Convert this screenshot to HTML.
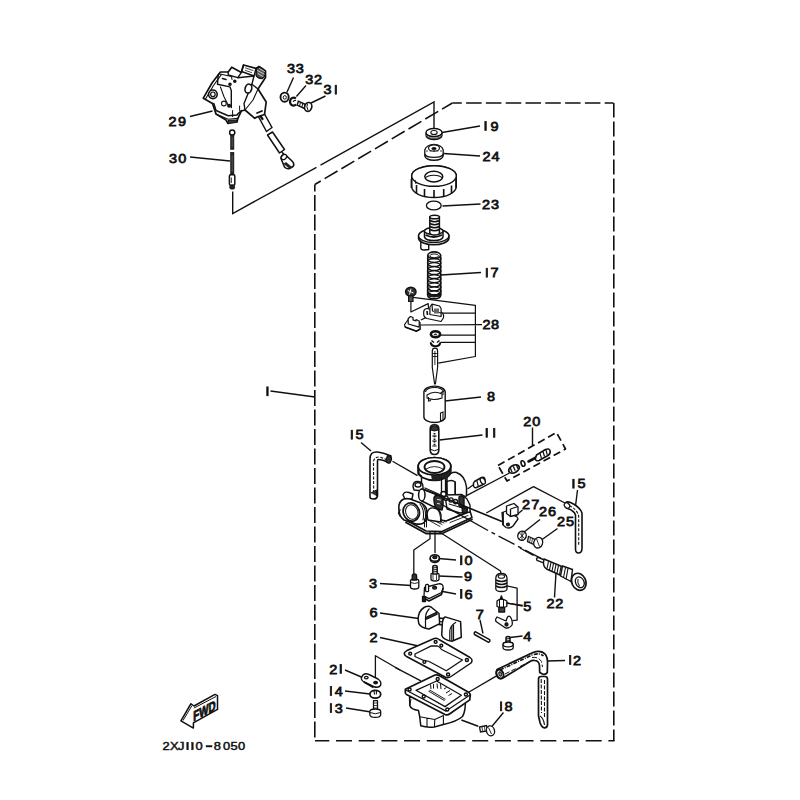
<!DOCTYPE html>
<html><head><meta charset="utf-8">
<style>
html,body{margin:0;padding:0;background:#fff;}
svg{display:block;}
text{font-family:"Liberation Sans",sans-serif;}
</style></head>
<body>
<svg width="800" height="800" viewBox="0 0 800 800">
<rect width="800" height="800" fill="#fff"/>
<!-- frame -->
<g id="frame" fill="none" stroke="#111" stroke-width="1.6">
<path d="M452.4,103 L613.5,103" stroke-dasharray="15.5,4.3" stroke-dashoffset="6.1"/>
<path d="M613.8,103 L613.8,741" stroke-dasharray="15,4" stroke-dashoffset="0.5"/>
<path d="M315,740.8 L614.5,740.8" stroke-dasharray="16,6.7" stroke-dashoffset="1.7"/>
<path d="M314.8,184.5 L314.8,740.8" stroke-dasharray="16,3.5" stroke-dashoffset="9"/>
<path d="M452.4,103 L314.8,184.5" stroke-dasharray="15,4.5" stroke-dashoffset="3"/>
</g>
<!-- solid line -->
<g id="lines" fill="none" stroke="#111" stroke-width="1.4">
<path d="M232.7,191.5 L232.7,213.5 L316.5,167.3 M320.5,165.1 L434,102 L434,128"/>
<path d="M270.5,391 L315,397"/>
</g>
<!-- leaders -->
<g id="leaders" fill="none" stroke="#111" stroke-width="1.4">
<path d="M293.5,77.5 L286.8,92.5"/>
<path d="M306,85.5 L296.4,96.5"/>
<path d="M325.5,96 L311,103"/>
<path d="M190,116.5 L212.5,111"/>
<path d="M190,157 L230,161"/>
<path d="M442,132.5 L480,126"/>
<path d="M443.5,153.5 L480,156"/>
<path d="M442.5,206 L480.5,204"/>
<path d="M441,275 L481,272.5"/>
<path d="M445,401 L481,397"/>
<path d="M439.5,440 L482.5,435"/>
<path d="M361,442.5 L371,451"/>
<path d="M532.5,427.5 L532.5,446"/>
<path d="M522.5,510 L513.5,517.5"/>
<path d="M540,519.5 L523.5,532.5"/>
<path d="M557.5,528.5 L540,541"/>
<path d="M577.5,490 L575.5,506"/>
<path d="M556,572.5 L554.5,597.5"/>
<path d="M438.5,558.5 L456,560"/>
<path d="M438.5,576 L462.5,577"/>
<path d="M380,583.5 L411,585.5"/>
<path d="M440,591 L456,594"/>
<path d="M505,602.5 L522.5,606"/>
<path d="M380,613 L418.5,618.5"/>
<path d="M480,620 L483,633.5"/>
<path d="M510,637.5 L522.5,636"/>
<path d="M380,637.5 L418.5,646"/>
<path d="M547.5,661 L565,660.5"/>
<path d="M503.5,712.5 L491,727.5"/>
<path d="M345,670 L362.5,677.5"/>
<path d="M345,691 L370,694"/>
<path d="M346,708 L371,712"/>
</g>
<!-- labels -->
<g id="labels" font-size="13.4" font-weight="normal" fill="#111" stroke="#111" stroke-width="0.75"><text transform="translate(287.00,72.5) scale(1.08,1)">3</text><text transform="translate(295.80,72.5) scale(1.08,1)">3</text><text transform="translate(305.25,83.75) scale(1.08,1)">3</text><text transform="translate(314.00,83.75) scale(1.08,1)">2</text><text transform="translate(323.50,94.4) scale(1.08,1)">3</text><rect x="335.15" y="85.25" width="1.4" height="8.9"/><text transform="translate(168.60,125.75) scale(1.08,1)">2</text><text transform="translate(177.90,125.75) scale(1.08,1)">9</text><text transform="translate(169.00,162.5) scale(1.08,1)">3</text><text transform="translate(178.30,162.5) scale(1.08,1)">0</text><rect x="484.85" y="121.60" width="1.4" height="8.9"/><text transform="translate(490.60,130.75) scale(1.08,1)">9</text><text transform="translate(482.40,161) scale(1.08,1)">2</text><text transform="translate(491.40,161) scale(1.08,1)">4</text><text transform="translate(482.00,209) scale(1.08,1)">2</text><text transform="translate(491.00,209) scale(1.08,1)">3</text><rect x="486.15" y="268.25" width="1.4" height="8.9"/><text transform="translate(490.60,277.4) scale(1.08,1)">7</text><text transform="translate(482.40,329.25) scale(1.08,1)">2</text><text transform="translate(491.00,329.25) scale(1.08,1)">8</text><text transform="translate(487.00,401) scale(1.08,1)">8</text><text transform="translate(523.25,425.5) scale(1.08,1)">2</text><text transform="translate(532.20,425.5) scale(1.08,1)">0</text><rect x="486.00" y="428.35" width="1.4" height="8.9"/><rect x="493.50" y="428.35" width="1.4" height="8.9"/><rect x="351.15" y="430.25" width="1.4" height="8.9"/><text transform="translate(355.60,439.4) scale(1.08,1)">5</text><rect x="572.75" y="479.25" width="1.4" height="8.9"/><text transform="translate(577.40,488.4) scale(1.08,1)">5</text><text transform="translate(522.00,508.75) scale(1.08,1)">2</text><text transform="translate(531.20,508.75) scale(1.08,1)">7</text><text transform="translate(539.00,516) scale(1.08,1)">2</text><text transform="translate(548.00,516) scale(1.08,1)">6</text><text transform="translate(557.00,526) scale(1.08,1)">2</text><text transform="translate(566.00,526) scale(1.08,1)">5</text><rect x="460.55" y="555.85" width="1.4" height="8.9"/><text transform="translate(464.50,565) scale(1.08,1)">0</text><text transform="translate(463.90,581) scale(1.08,1)">9</text><text transform="translate(369.00,588) scale(1.08,1)">3</text><rect x="460.55" y="589.35" width="1.4" height="8.9"/><text transform="translate(464.50,598.5) scale(1.08,1)">6</text><text transform="translate(523.25,611.25) scale(1.08,1)">5</text><text transform="translate(546.50,607.75) scale(1.08,1)">2</text><text transform="translate(555.20,607.75) scale(1.08,1)">2</text><text transform="translate(369.50,617) scale(1.08,1)">6</text><text transform="translate(475.75,619) scale(1.08,1)">7</text><text transform="translate(523.25,641) scale(1.08,1)">4</text><text transform="translate(369.50,642) scale(1.08,1)">2</text><rect x="569.45" y="655.45" width="1.4" height="8.9"/><text transform="translate(572.90,664.6) scale(1.08,1)">2</text><rect x="500.35" y="701.85" width="1.4" height="8.9"/><text transform="translate(504.50,711) scale(1.08,1)">8</text><text transform="translate(329.20,673.6) scale(1.08,1)">2</text><rect x="340.05" y="664.45" width="1.4" height="8.9"/><rect x="330.25" y="686.55" width="1.4" height="8.9"/><text transform="translate(334.80,695.7) scale(1.08,1)">4</text><rect x="330.25" y="703.65" width="1.4" height="8.9"/><text transform="translate(334.80,712.8) scale(1.08,1)">3</text><rect x="266.75" y="386.85" width="1.4" height="8.9"/><g font-size="10.4" stroke-width="0.45"><text transform="translate(162.60,749.9) scale(1.24,1)">2</text><text transform="translate(170.00,749.9) scale(1.24,1)">X</text><text transform="translate(178.10,749.9) scale(1.24,1)">J</text><rect x="186.80" y="742.4" width="1.5" height="7.4"/><rect x="191.70" y="742.4" width="1.5" height="7.4"/><text transform="translate(195.40,749.9) scale(1.24,1)">0</text><rect x="206.10" y="745.5" width="5.9" height="1.5"/><text transform="translate(213.70,749.9) scale(1.24,1)">8</text><text transform="translate(223.00,749.9) scale(1.24,1)">0</text><text transform="translate(230.60,749.9) scale(1.24,1)">5</text><text transform="translate(238.10,749.9) scale(1.24,1)">0</text></g></g>
<g id="p29" stroke="#111" stroke-width="1.4" fill="#fff" stroke-linejoin="round" stroke-linecap="round">
<!-- rod -->
<path d="M256.5,113 L262,109.5 L272,127.5 L266.5,131.5 Z" stroke-width="1.5"/>
<path d="M258,112.5 L262.5,119" fill="none" stroke-width="2.2"/>
<path d="M267.5,135 L272.5,132 L284.5,149.5 L279.5,153 Z" stroke-width="1.5"/>
<path d="M282,152 L285,156" fill="none"/>
<path d="M281,158.5 Q281,154.5 285,154.5 L292,161 Q295,164 293,166.5 L289.5,168.5 Q287,169.5 284.5,167 Z" fill="#fff" stroke-width="1.6"/>
<path d="M286,162 L292.5,167.5 L289.5,168.8 L283.5,163.8 Z" fill="#222" stroke="none"/>
<ellipse cx="284" cy="157" rx="3" ry="2.2" transform="rotate(-40 284 157)" stroke-width="1.2"/>
<!-- body silhouette -->
<path d="M203.3,98.2 L212,83 L220.4,72 L228.2,72 L231.75,67.2 L241.4,72.4 L243.5,65 L256,68.5 L259,66.5 L265.5,71 L265.5,77.5 L258,89 L266.2,102 L264.5,114.5 L257,117 L254.8,118.3 L245,110 L241.4,111 L237.9,118.4 L237,122 L228,123.5 L226,120 L216,114 L214,108 L212.5,103.6 Z" stroke-width="1.7"/>
<path d="M205.5,99 L213.5,85.5 L221.25,74.6" fill="none" stroke-width="1.1"/>
<path d="M228.2,72 L228.2,75 L237.9,77.7 L241.4,72.4" fill="none"/>
<path d="M218.2,74.6 L217.5,84.3 L230,86.9 L231.3,90.8 L231.3,107.5" fill="none"/>
<path d="M218.6,73.8 L231.5,76.5 L232,79.5" fill="none" stroke-width="1.1"/>
<path d="M222.5,78.5 L226,79.5" fill="none" stroke-width="1.6"/>
<path d="M220.4,86.9 L223.9,96.5 L228.2,105.3" fill="none" stroke-width="1.1"/>
<path d="M243.5,65 L241.5,71.5 L254,76 L256,68.5" fill="none"/>
<path d="M245.5,68 L253,70.5 M245.5,70.5 L251.5,72.5" fill="none" stroke-width="0.8"/>
<path d="M256.5,68 Q262,66.5 265,71.5 Q266,76.5 262,78.5 Q257.5,78.5 256,75 Z" fill="#555"/>
<path d="M257.5,70.5 L264,74 M258,73.5 L263,76.5 M259.5,68.5 L264.5,71.5" stroke="#fff" stroke-width="0.7" fill="none"/>
<path d="M237.9,77.7 L254,76 L251.9,84.3 L244,103.5 L245,110" fill="none"/>
<path d="M251.9,84.3 L258,89" fill="none"/>
<path d="M258,89 L253,100 L245,110" fill="none" stroke-width="1.1"/>
<circle cx="212.9" cy="94.3" r="4.3" stroke-width="1.6"/>
<circle cx="212.9" cy="94.3" r="2.3" stroke-width="1.2"/>
<circle cx="223.9" cy="103.5" r="2.4" stroke-width="1.1"/>
<circle cx="229.1" cy="105.7" r="1.3" fill="#222"/>
<circle cx="234.8" cy="81.2" r="1.1" fill="#222"/>
<circle cx="230" cy="84.3" r="1.1" fill="#222"/>
<ellipse cx="248.4" cy="88.6" rx="3.3" ry="4.6" transform="rotate(15 248.4 88.6)" stroke-width="1.6"/>
<path d="M213.8,103.5 L216,110.5 L228.2,115.8 L237,114.9 L241.4,110.5" fill="none" stroke-width="1.5"/>
<path d="M216,114 L228.2,119.3 L237.9,118.4" fill="none" stroke-width="1.1"/>
<path d="M232.6,110.5 L232.6,116.6 M239.6,106 L239.6,110.5" fill="none" stroke-width="1"/>
<path d="M228,123.5 L228,120.5 L237,120 L237,122" fill="#333" stroke-width="1"/>
<path d="M257,113 L262,111" fill="none" stroke-width="1.8"/>
</g>
<g id="p30" stroke="#111" stroke-width="1.3" fill="#fff">
<circle cx="232.2" cy="132.5" r="2.6" stroke-width="1.5"/>
<rect x="230.6" y="135" width="3.3" height="14.3" fill="#222" stroke-width="0.6"/>
<rect x="230.6" y="152.3" width="3.3" height="22.5" fill="#222" stroke-width="0.6"/>
<path d="M232.2,137 L232.2,147 M232.2,155 L232.2,172" stroke="#777" stroke-width="0.6"/>
<rect x="229.4" y="174.8" width="5.4" height="10.5" rx="1.2" stroke-width="1.5"/>
<path d="M231.3,177.5 L231.3,183" stroke-width="0.9"/>
<rect x="229.8" y="185.2" width="4.8" height="3.8" rx="1.5" fill="#222" stroke-width="1"/>
</g>
<g id="p31" stroke="#111" stroke-width="1.3" fill="#fff">
<ellipse cx="284.6" cy="97.2" rx="4.1" ry="4.6" stroke-width="1.9"/>
<ellipse cx="284.8" cy="97.4" rx="1.6" ry="1.8" stroke-width="1"/>
<path d="M296,98.2 Q293,96.5 290.8,99 Q289,102.5 291.5,105 Q294,106.5 296.2,104.5" fill="none" stroke-width="2.2"/>
<path d="M296,100.5 Q294,100 293.2,101.8" fill="none" stroke-width="1.2"/>
<path d="M298.3,101.2 L305.5,104.5 L304.3,108.5 L297.2,105.2 Z" stroke-width="1.4"/>
<path d="M300.5,102.3 L299.5,106.2 M302.8,103.3 L301.8,107.2" stroke-width="1" fill="none"/>
<ellipse cx="308.2" cy="106.9" rx="3.6" ry="4.5" transform="rotate(15 308.2 106.9)" stroke-width="1.6"/>
<path d="M307.5,103.8 Q306,107 308,110" fill="none" stroke-width="1"/>
</g>
<g id="p19" stroke="#111" stroke-width="1.3" fill="#fff">
<path d="M426,132.5 A8,4 0 0 0 442,132.5 L442,135.5 A8,4 0 0 1 426,135.5 Z"/>
<ellipse cx="434" cy="132.5" rx="8" ry="4"/>
<ellipse cx="434" cy="132.5" rx="3.2" ry="2" stroke-width="1.1"/>
<path d="M427,136.5 A8,3.5 0 0 0 441,136.5" fill="none" stroke-width="0.8"/>
</g>
<g id="p24" stroke="#111" stroke-width="1.3" fill="#fff">
<path d="M424.8,150 A9.3,6.5 0 0 1 443.2,150 L443.2,156 A9.3,5 0 0 1 424.8,156 Z"/>
<path d="M424.8,154 A9.3,4 0 0 0 443.2,154" fill="none"/>
<ellipse cx="434" cy="148" rx="5.5" ry="3.2" fill="#fff" stroke-width="1.2"/>
<ellipse cx="434" cy="148.5" rx="2.6" ry="1.6" fill="#111" stroke="none"/>
<path d="M426,151 L442,151" stroke-width="0.8" stroke-dasharray="2,1.5"/>
</g>
<g id="p_nut" stroke="#111" stroke-width="1.4" fill="#fff">
<path d="M411.7,176 A22.3,10.3 0 0 1 456.3,176 L456.3,186.5 A22.3,11 0 0 1 411.7,186.5 Z"/>
<ellipse cx="434" cy="176" rx="22.3" ry="10.3"/>
<ellipse cx="433.8" cy="176.6" rx="9" ry="5.3" stroke-width="1.5"/>
<path d="M425.3,178 A9,4.2 0 0 1 442.3,178" fill="none" stroke-width="1.1"/>
<path d="M411.4,179 L411.4,188 M416.5,185 L416.5,193.5 M424.5,189 L424.5,197 M434,190 L434,198 M443.7,189 L443.7,197 M451.5,185.5 L451.5,193.5 M456,179 L456,188" stroke-width="1.6"/>
<path d="M415,180 L416,184" stroke-width="1"/>
</g>
<g id="p23" stroke="#111" stroke-width="1.3" fill="none">
<ellipse cx="433.8" cy="205.5" rx="7.4" ry="4.4"/>
</g>
<g id="p_plunger" stroke="#111" stroke-width="1.4" fill="#fff">
<path d="M420.8,241 L420.8,248 Q421,250 424,250 L428.7,249.5 L428.7,243" />
<path d="M418.6,236 A15.2,6.8 0 0 1 448.9,236 L448.9,238.5 A15.2,6.8 0 0 1 418.6,238.5 Z" stroke-width="1.6"/>
<ellipse cx="433.75" cy="235.8" rx="15.2" ry="6.8" stroke-width="1.5"/>
<path d="M424.5,231 L424.5,237 A9.3,4 0 0 0 443,237 L443,231" stroke-width="1.5"/>
<ellipse cx="433.75" cy="231" rx="9.3" ry="3.5"/>
<path d="M425.5,235 Q433.75,239 442,235" fill="none" stroke-width="1.8"/>
<path d="M429.8,217 L429.8,233 A4.8,2 0 0 0 439.4,233 L439.4,217 Z" stroke-width="1.5"/>
<ellipse cx="434.6" cy="217" rx="4.8" ry="1.8" stroke-width="1.5"/>
<path d="M429.8,220.5 Q434.6,223 439.4,220.5 M429.8,223.5 Q434.6,226 439.4,223.5 M429.8,226.5 Q434.6,229 439.4,226.5 M429.8,229.5 Q434.6,232 439.4,229.5" fill="none" stroke-width="1.6"/>
</g>
<g id="p17" stroke="#111" stroke-width="1.5" fill="none">
<ellipse cx="434.2" cy="255.3" rx="6.4" ry="3.4" fill="#fff" stroke-width="1.6"/>
<ellipse cx="434.2" cy="255.8" rx="4.3" ry="1.9" stroke-width="1"/>
<path d="M427.7,257.5 Q427.0,261.0 431.2,262.1 Q434.2,262.7 437.2,262.1 Q441.4,261.0 440.7,257.5"/>
<path d="M428.7,259.7 Q434.2,257.3 439.7,259.7" stroke-width="1"/>
<path d="M427.7,261.55 Q427.0,265.05 431.2,266.15000000000003 Q434.2,266.75 437.2,266.15000000000003 Q441.4,265.05 440.7,261.55"/>
<path d="M428.7,263.75 Q434.2,261.35 439.7,263.75" stroke-width="1"/>
<path d="M427.7,265.6 Q427.0,269.1 431.2,270.20000000000005 Q434.2,270.8 437.2,270.20000000000005 Q441.4,269.1 440.7,265.6"/>
<path d="M428.7,267.8 Q434.2,265.40000000000003 439.7,267.8" stroke-width="1"/>
<path d="M427.7,269.65 Q427.0,273.15 431.2,274.25 Q434.2,274.84999999999997 437.2,274.25 Q441.4,273.15 440.7,269.65"/>
<path d="M428.7,271.84999999999997 Q434.2,269.45 439.7,271.84999999999997" stroke-width="1"/>
<path d="M427.7,273.7 Q427.0,277.2 431.2,278.3 Q434.2,278.9 437.2,278.3 Q441.4,277.2 440.7,273.7"/>
<path d="M428.7,275.9 Q434.2,273.5 439.7,275.9" stroke-width="1"/>
<path d="M427.7,277.75 Q427.0,281.25 431.2,282.35 Q434.2,282.95 437.2,282.35 Q441.4,281.25 440.7,277.75"/>
<path d="M428.7,279.95 Q434.2,277.55 439.7,279.95" stroke-width="1"/>
<path d="M427.7,281.8 Q427.0,285.3 431.2,286.40000000000003 Q434.2,287.0 437.2,286.40000000000003 Q441.4,285.3 440.7,281.8"/>
<path d="M428.7,284.0 Q434.2,281.6 439.7,284.0" stroke-width="1"/>
<path d="M427.7,285.85 Q427.0,289.35 431.2,290.45000000000005 Q434.2,291.05 437.2,290.45000000000005 Q441.4,289.35 440.7,285.85"/>
<path d="M428.7,288.05 Q434.2,285.65000000000003 439.7,288.05" stroke-width="1"/>
<path d="M427.7,289.9 Q427.0,293.4 431.2,294.5 Q434.2,295.09999999999997 437.2,294.5 Q441.4,293.4 440.7,289.9"/>
<path d="M428.7,292.09999999999997 Q434.2,289.7 439.7,292.09999999999997" stroke-width="1"/>
<path d="M427.7,293.95 Q427.0,297.45 431.2,298.55 Q434.2,299.15 437.2,298.55 Q441.4,297.45 440.7,293.95"/>
<path d="M428.7,296.15 Q434.2,293.75 439.7,296.15" stroke-width="1"/>
<path d="M427.8,255.3 L427.59999999999997,295 M440.59999999999997,255.3 L440.8,295" stroke-width="1.5"/>
<path d="M428.2,293 Q434.2,297.5 440.2,293 L439.2,296 Q434.2,298 429.2,296 Z" fill="#222" stroke-width="1.2"/>
</g>
<g id="p28" stroke="#111" stroke-width="1.2" fill="#fff" stroke-linejoin="round">
<path d="M413,297.4 L475.4,305.3 L475.4,356.5 L438.3,363.2 M441.1,313.2 L475.4,313.2 M420.3,325 L482,324.6 M440.6,335.1 L475.4,335.1 M440.6,342.4 L475.4,342.4" fill="none"/>
<path d="M410.9,301.4 L410.9,312 L428.2,303.6 L428.5,309 M420.9,320 L427.6,316.6" fill="none"/>
<ellipse cx="410.8" cy="291.8" rx="5.2" ry="4.5" fill="#333" stroke-width="1.5"/>
<path d="M407.8,290.5 L413.5,293 M411,288.8 L409.5,294.5" stroke="#fff" stroke-width="1"/>
<rect x="408.6" y="296" width="4.4" height="5.5" fill="#555"/>
<!-- clip upper -->
<path d="M423.7,314 Q423,309 427,308.5 L441,312 Q444.5,314 443.4,318 L441,321.5 L427,318.5 Q423.5,317 423.7,314 Z"/>
<path d="M429.9,314.5 L429.9,307 L432,304.2 L439.5,306 L441.1,308.5 L441.1,316.5 Z" fill="#fff"/>
<path d="M432,304.2 L432.5,311 L441.1,313" fill="none"/>
<path d="M427,311 L427.5,315" stroke-width="1.6"/>
<rect x="434" y="308.5" width="5" height="5" fill="#666" stroke="none"/>
<!-- clip lower -->
<path d="M404.6,324.5 L409,318.5 L420,322.5 L420.3,329 L416.5,331.2 L405,327 Z"/>
<path d="M408.2,324 L408.2,318.5 L410.5,316.5 L413,317.5 L413,320 L416,321 L416,319.5 L419.2,321 L419.2,327.2 Z"/>
<path d="M405,327 L416.5,331.2 L420.3,329" fill="none" stroke-width="1.5"/>
<!-- washers -->
<ellipse cx="435.5" cy="334.2" rx="4.6" ry="3" stroke-width="2.6"/>
<ellipse cx="435.5" cy="334.4" rx="1.6" ry="0.9" fill="#333" stroke="none"/>
<path d="M431,342.4 A4.6,3.2 0 1 0 440,342.4" fill="none" stroke-width="2.2"/>
<path d="M431.5,340.5 L434,342.5 M439.5,340.5 L437,342.5" stroke-width="1.4"/>
<!-- needle -->
<path d="M432.3,351 Q432.3,348.2 435,348.2 Q437.6,348.2 437.6,351 L437.6,367.5 L435.4,384 L434.6,384 L432.3,367.5 Z"/>
<path d="M434.9,351 L434.9,365 M432.3,353.5 L437.6,353.5 M432.3,356.5 L437.6,356.5" fill="none" stroke-width="0.9"/>
</g>
<g id="p8" stroke="#111" stroke-width="1.4" fill="#fff">
<path d="M423.9,392 A10.65,5.9 0 0 1 445.2,392 L445.2,417 A10.65,5.5 0 0 1 423.9,417 Z"/>
<path d="M425.5,392 A9,4.5 0 0 1 443.5,392" fill="none" stroke-width="1.2"/>
<path d="M427,395 Q434,390 442,394 L442,398 Q434,401 427,398 Z" fill="none" stroke-width="1.1"/>
<path d="M428.5,397 L428.5,401 L431,400.5 M440.5,393 L443,391.5 L443,395" fill="none" stroke-width="1.1"/>
<path d="M440.5,413 L443,412 L443,420 L440.5,420.5 Z" fill="#fff" stroke-width="1.1"/>
</g>
<g id="p11" stroke="#111" stroke-width="1.6" fill="#fff">
<path d="M430.2,429 Q430.2,424.8 434.5,424.8 Q438.8,424.8 438.8,429 L438.8,450 Q438.8,454.5 434.5,454.5 Q430.2,454.5 430.2,450 Z"/>
<path d="M431,427 Q434.5,424.5 438,427 L438,430 Q434.5,432 431,430 Z" fill="#333" stroke-width="1"/>
<path d="M434.5,433 L434.5,446" stroke-width="1.8" stroke-dasharray="1.5,1.2" fill="none"/>
<path d="M432.3,436 L436.7,436 M432.3,441 L436.7,441 M432.3,446 L436.7,446" stroke-width="1.1" fill="none"/>
<path d="M431,449.5 Q434.5,452 438,449.5" fill="none" stroke-width="1"/>
</g>
<g id="p15a" stroke="#111" stroke-width="1.6" fill="#fff" stroke-linejoin="round">
<path d="M370,497 L370,459 Q370,451.5 377,452 Q383,452.5 391,456 L388.5,462.5 Q382,459.5 378.5,459.5 Q377.5,459.5 377.5,461 L377.5,496 Q377,499 373.5,499 Q370,499 370,497 Z"/>
<path d="M373.7,493 L373.5,462 Q374,456.5 380,457 L386,459.5" fill="none" stroke-width="1.1" stroke-dasharray="3,1.5"/>
<path d="M387.5,455.5 Q392,456 391.5,459.5 L390,463 Q386,463.5 386,460 Z" fill="#333" stroke-width="1.2"/>
<path d="M371,493 L376.5,490 L376.5,496" fill="#333" stroke-width="1"/>
<path d="M392.5,461.3 L417.5,475.6" fill="none" stroke-width="1.3"/>
</g>
<g id="carb" stroke="#111" stroke-width="1.4" fill="#fff" stroke-linejoin="round" stroke-linecap="round">
<path d="M430,532 L430,538.8 L413.8,550 L413.8,573.5" fill="none" stroke-width="1.3"/>
<path d="M435,532 L435,552.5" fill="none" stroke-width="1.3"/>
<path d="M439.5,532 L500.5,571 L501,574" fill="none" stroke-width="1.3"/>
<!-- base plate -->
<path d="M404,519 L426,531 L442,531.5 L472,517.5 L470,511 L446,521 L425,517 Z" stroke-width="1.5"/>
<path d="M406,522.5 L426,533.5 L442,533.5 L472,519.5" fill="none" stroke-width="1.8"/>
<path d="M427.5,519.5 L440,526.5 M429,518 L442,524.5 M431,517 L444,523 M433,516 L446,522 M448,520.5 L466,513.5 M450,522.5 L468,515.5" fill="none" stroke-width="0.9"/>
<!-- right elbow -->
<path d="M446,478 Q451,471.5 456.5,472.5 Q465,475.5 466.5,487 L466.5,496 L455,497 L455,482 Q452,479 446,482 Z" stroke-width="1.5"/>
<path d="M455.5,482 L455.5,495" fill="none" stroke-width="1"/>
<!-- throat cylinder -->
<path d="M421.5,474 L421.5,494 L447,500 L447,474 Z"/>
<path d="M446,480 L447,498" fill="none" stroke-width="1.8"/>
<!-- ring top -->
<path d="M418.2,466.3 A16.3,8.8 0 0 1 450.8,466.3 L450.8,471.5 A16.3,8.8 0 0 1 418.2,471.5 Z" stroke-width="1.7"/>
<path d="M432,480.3 A16.3,8.8 0 0 0 450.8,471.5 L450.8,466.3 A16.3,8.8 0 0 1 431,475" fill="#222" stroke="none"/>
<path d="M418.5,467 L418.5,474 L421,476" fill="none" stroke-width="2"/>
<ellipse cx="434.5" cy="466.3" rx="16.3" ry="8.8" stroke-width="1.7"/>
<ellipse cx="434.5" cy="467" rx="10" ry="6" stroke-width="1.8"/>
<path d="M426,469 Q434.5,464 443,469" fill="none" stroke-width="0.9"/>
<!-- lower dome -->
<path d="M427,514 Q428,507 434,508 Q440,509 441,515 L441,522 L428,520 Z"/>
<path d="M437,509 Q441,513 440.5,521" fill="none" stroke-width="1"/>
<!-- jet block right -->
<path d="M445,495 L462,494.5 L467,499 L470,505 L470,512 L460,513 L447,509 Z"/>
<circle cx="446" cy="498.2" r="2.1"/>
<circle cx="451" cy="500" r="2.1"/>
<circle cx="455.5" cy="501.6" r="2.1"/>
<path d="M459,497 Q461.5,494.5 464,497 L464,506 Q461.5,508.5 459,506 Z" fill="#333"/>
<path d="M462,507 Q465,505.5 467.5,508 L467,513 L462.5,512 Z" fill="#333"/>
<path d="M449,504 L466,509" fill="none" stroke-width="1"/>
<!-- left bolt boss top -->
<path d="M413,486.5 Q413,481 418,481.5 Q423,482 423,487 L423,491 L414,490 Z"/>
<ellipse cx="418" cy="484.8" rx="3" ry="2.2"/>
<!-- main diagonal tube -->
<path d="M421.8,489 L436,494 L441,498 L441,509 L432,506 L421.8,501 Z"/>
<ellipse cx="421.8" cy="495" rx="3.2" ry="6" stroke-width="1.5"/>
<path d="M436,495.5 Q433.5,496 434,501 Q434.5,507 437.5,509 L442,510 Q443.5,506 443,500 Q442,495.5 438.5,495 Z" fill="#333"/>
<path d="M437.5,499.5 L440.5,500 M437.5,503.5 L440.5,504" stroke="#fff" stroke-width="0.9" fill="none"/>
<path d="M441.5,478 L441.5,493 M445.5,479 L445.5,494" fill="none" stroke-width="1.3"/>
<circle cx="443.5" cy="494" r="2.6" fill="#fff" stroke-width="1.5"/>
<path d="M425,488 L443,496" fill="none" stroke-width="1.3"/>
<!-- small boss -->
<path d="M403,495 Q404,491 409,492.5 L413,494 L412,499 L405,499 Z"/>
<!-- intake -->
<path d="M399,505 Q401,497 410,499 L421,503 Q427,506 427,513 L426,520 Q424,525 416,524 L404,520 Q398,516 399,505 Z" stroke-width="1.6"/>
<ellipse cx="411.3" cy="512" rx="8" ry="9.3" transform="rotate(-20 411.3 512)" stroke-width="1.8"/>
<ellipse cx="411.8" cy="512" rx="6" ry="7.5" transform="rotate(-20 411.8 512)" stroke-width="1"/>
<path d="M420,504 Q425,510 423,520 M422.5,504.5 Q427,511 425,520" fill="none" stroke-width="1.1"/>
<path d="M400,510 L398.5,513 L400,516" fill="none"/>
<path d="M424.5,519 L424.5,527 M426.5,519.5 L426.5,527" fill="none" stroke-width="1"/>
</g>
<g id="p20" stroke="#111" stroke-width="1.3" fill="#fff" stroke-linejoin="round">
<path d="M498,465.5 L556.5,432.5 L565.5,449 L507,481 Z" fill="none" stroke-dasharray="7.5,4" stroke-width="1.7"/>
<path d="M467,495.4 L509.5,473" fill="none"/>
<ellipse cx="514" cy="469" rx="5.6" ry="3.6" transform="rotate(-28 514 469)" stroke-width="1.8"/>
<path d="M510.3,468 Q511.5,471 512.3,472.5 M513.3,466.3 Q514.5,469.3 515.3,470.8 M516.3,464.8 Q517.5,467.8 518.3,469.3" stroke-width="1.3" fill="none"/>
<ellipse cx="523" cy="463.5" rx="1.8" ry="2.8" transform="rotate(-20 523 463.5)" stroke-width="1.6"/>
<path d="M528.5,461.5 L537,457" stroke-width="2.6" stroke-linecap="round"/>
<path d="M536.5,455 L545.5,449.5 Q549,448 550,450.5 Q551,453.5 548,455.5 L539,460.5 Q536,461.5 535.3,459 Z" stroke-width="1.6"/>
<path d="M540,453.3 L541.5,458.3 M543,451.5 L544.5,456.5 M546,450 L547.3,454.8" stroke-width="1.2" fill="none"/>
</g>
<g id="plug" stroke="#111" stroke-width="1.5" fill="#fff">
<path d="M467.5,489 L474.5,484" fill="none" stroke-width="1.3"/>
<path d="M474.5,481.5 L481.5,477.5 Q484.5,476.5 485,479.5 Q485.5,483 482,485 L476.5,487.5 Q474,488.5 473.5,485.5 Q473,482.5 474.5,481.5 Z"/>
<ellipse cx="482.8" cy="481" rx="2.2" ry="3.4" transform="rotate(-30 482.8 481)" stroke-width="1.3"/>
<path d="M477,481 L478.3,486.5" stroke-width="1.1"/>
</g>
<g id="p27" stroke="#111" stroke-width="1.3" fill="#fff" stroke-linejoin="round">
<path d="M424,489.4 L502,521.6" fill="none" stroke-width="1.6"/>
<path d="M486.3,513 L533.5,486.6 L566.8,504" fill="none"/>
<path d="M440,503.5 L488,530.5" fill="none" stroke-width="1.4"/>
<path d="M491.5,532.3 L542,559" fill="none" stroke-dasharray="4,4,18,4" stroke-width="1.4"/>
<path d="M502,512.5 L506.5,511 L513,515 L517,517 L518,519 L513,526 Q510,529 506,527.5 L503,525 Z"/>
<path d="M506.5,506 L514,503.5 L518,507 L518,514.5 L510.5,516.5 L506.5,513.5 Z"/>
<path d="M510.5,509 L518,506.5 M510.5,509 L510.5,516.5" fill="none"/>
<path d="M503,512 L503,525" stroke-width="1.8" fill="none"/>
<circle cx="508" cy="524.5" r="1.4" fill="#333"/>
</g>
<g id="p26" stroke="#111" stroke-width="1.4" fill="#fff">
<ellipse cx="522" cy="535.8" rx="4.2" ry="4.6" transform="rotate(20 522 535.8)"/>
<path d="M519.5,533 L524.5,538.5 M524.5,533 L519.5,538.5 M522,531.5 L522,540" stroke-width="0.9"/>
</g>
<g id="p25" stroke="#111" stroke-width="1.3" fill="#fff">
<path d="M528.5,536.5 L535,539.5 L534,544.5 L527.5,541.5 Z"/>
<path d="M530.5,537.5 L529.5,542.5 M532.5,538.5 L531.5,543.5" stroke-width="0.8"/>
<ellipse cx="538.2" cy="542.7" rx="4.4" ry="5.4" transform="rotate(20 538.2 542.7)"/>
<path d="M536.5,538.8 L539.5,546.5" stroke-width="0.9"/>
</g>
<g id="p15b" stroke="#111" stroke-width="1.6" fill="#fff" stroke-linejoin="round">
<path d="M565,504.5 Q565.5,500.5 570.5,502.5 Q580,507 582,513 L582,548 Q582,553 578.5,553 Q575.5,553 575.5,549 L575.5,515 Q574,510.5 567.5,508.5 Q564.5,507.5 565,504.5 Z"/>
<path d="M569,505.5 Q577,509 578.7,516 L578.7,546" fill="none" stroke-width="1.1" stroke-dasharray="3,1.5"/>
<ellipse cx="567" cy="505.5" rx="2.3" ry="3" transform="rotate(-50 567 505.5)" stroke-width="1.2"/>
</g>
<g id="p22" stroke="#111" stroke-width="1.4" fill="#fff" stroke-linejoin="round">
<path d="M520,548 L533.5,555.5" fill="none" stroke-width="1.4"/>
<path d="M538,557.3 L544.5,560 L543.5,562.8 L537,560.3 Q535.8,558.3 538,557.3 Z"/>
<path d="M544,559 L563,567 L561,575.5 L546.5,569 Q543.5,567 543.5,562.5 Z"/>
<path d="M548.5,561.5 L547,568.5 M551,562.5 L549.5,569.8 M553.5,563.5 L552,571 M556,564.6 L554.5,572 M558.5,565.7 L557,573.2 M561,566.7 L559.5,574.5" stroke-width="1.1" fill="none"/>
<path d="M562.5,566 L572.5,569.5 L571,581.5 L560.5,576 Z"/>
<path d="M565.5,567.5 L563.5,577.5 M568,568.3 L566,579.3" stroke-width="1.1" fill="none"/>
<ellipse cx="578.8" cy="581.8" rx="7" ry="8.8" transform="rotate(-25 578.8 581.8)" stroke-width="1.7"/>
<ellipse cx="579.8" cy="582.3" rx="4.2" ry="5.6" transform="rotate(-25 579.8 582.3)" stroke-width="1.3"/>
<path d="M578,579 Q577,583 579.5,586" fill="none" stroke-width="1"/>
</g>
<g id="p3_10_9_16" stroke="#111" stroke-width="1.3" fill="#fff" stroke-linejoin="round">
<path d="M410.5,581 Q410.5,579 414.6,579 Q418.8,579 418.8,581 L418.8,587 Q418.8,589 414.6,589 Q410.5,589 410.5,587 Z"/>
<path d="M412.2,580 L412.2,576 Q412.2,574 414.4,574 Q416.6,574 416.6,576 L416.6,580 Z" fill="#333"/>
<path d="M410.8,582.5 Q414.6,584.5 418.5,582.5" fill="none" stroke-width="0.9"/>
<ellipse cx="434.8" cy="558" rx="4.6" ry="3.3" stroke-width="1.6"/>
<ellipse cx="434.8" cy="557.3" rx="2" ry="1.3" fill="#333"/>
<path d="M430.2,558 L430.2,559.5 A4.6,3 0 0 0 439.4,559.5 L439.4,558" fill="none"/>
<path d="M431,574 L431,579 Q431,581 435,581 Q439,581 439,579 L439,574 Q435,571 431,574 Z"/>
<path d="M432.8,574 L432.8,567 Q432.8,565.4 435,565.4 Q437.2,565.4 437.2,567 L437.2,574 Z" fill="#fff" stroke-width="1.5"/>
<path d="M432.8,568 L437.2,567.5 M432.8,570 L437.2,569.5 M432.8,572 L437.2,571.5" stroke-width="1" fill="none"/>
<path d="M433,574.5 L433,580 M436.5,574.5 L436.5,580" stroke-width="0.8" fill="none"/>
<path d="M424.5,587.5 L438.5,583.8 Q443.2,583.3 443.2,587.8 L441.5,592.5 L429,598.6 L424,596 Z" stroke-width="1.3"/>
<path d="M424,596 L424,598 L429,601 L441.5,594.5 L443.2,588" fill="none" stroke-width="1.6"/>
<rect x="425.6" y="584.4" width="3" height="7.2" rx="1.2"/>
<ellipse cx="434.6" cy="587.7" rx="2" ry="1.4" fill="#333"/>
<path d="M422.5,596.5 L425.5,597 L425.5,601.5 L422.5,601.5 Z" fill="#222"/>
</g>
<g id="p5" stroke="#111" stroke-width="1.3" fill="#fff" stroke-linejoin="round">
<path d="M507,585.9 L517.1,588.1 L517.1,620.2 L512.6,620.7 M507,603.3 L522.75,605.5" fill="none"/>
<path d="M495.8,578 Q496,573.5 501.4,573.5 Q506.8,573.5 507,578 L507,589 Q506.8,591.5 501.4,591.5 Q496,591.5 495.8,589 Z"/>
<path d="M496,580 Q501.4,583 507,580 M496,583 Q501.4,586 507,583 M496,586 Q501.4,589 507,586" fill="none" stroke-width="1.5"/>
<ellipse cx="501.4" cy="576.5" rx="3.2" ry="1.8" fill="#fff" stroke-width="1.1"/>
<path d="M500.2,599.5 L501.4,595.8 L502.6,599.5 Z" fill="#333"/>
<path d="M497,601 L499.5,599.3 L503.5,599.3 L506.8,601 L506.8,606.5 L503.5,607.5 L499.5,607.5 L497,606.5 Z" fill="#fff"/>
<path d="M499.5,599.5 L499.5,607.3 M503.5,599.5 L503.5,607.3" stroke-width="1" fill="none"/>
<path d="M498.8,607.5 L498.8,612 L504.6,612 L504.6,607.5 Z" fill="#444"/>
<path d="M495.5,619.5 L497,617 L506,621 L507.5,617 Q510,615 511,618 Q513,621.5 512,625 Q510,628.5 505.5,628 L496,621.5 Z"/>
<circle cx="506.5" cy="624.5" r="1.5" fill="#222"/>
</g>
<g id="p4" stroke="#111" stroke-width="1.3" fill="#fff">
<path d="M506,642.5 L506,638 Q506,636.5 508,636.5 Q510,636.5 510,638 L510,642.5" fill="#fff" stroke-width="1.5"/>
<path d="M506,639 L510,638.5 M506,641 L510,640.5" stroke-width="1"/>
<path d="M503,644.5 Q503,642 508.1,642 Q513.2,642 513.2,644.5 L513.2,647.5 Q513.2,650 508.1,650 Q503,650 503,647.5 Z"/>
<ellipse cx="508.1" cy="644.5" rx="5" ry="2.4"/>
</g>
<g id="p7" stroke="#111" stroke-width="1.5" fill="#fff">
<path d="M475.6,631.8 L489.6,639.6 Q490.5,641.5 488.6,642.3 L474.5,634.5 Q473.5,632.5 475.6,631.8 Z" stroke-linejoin="round"/>
</g>
<g id="p6" stroke="#111" stroke-width="1.5" fill="#fff" stroke-linejoin="round">
<path d="M439,618 L443.5,618.5 L443,625 L438.5,624.5 Z" stroke-width="1.3"/>
<path d="M439.5,621.5 L443,622" stroke-width="1.1"/>
<path d="M418.1,619 Q418.5,611 424,607.5 Q428,605.3 431,607 L439,613.5 L439.7,623.6 L429,629 Q421,628 418.8,623.6 Z"/>
<path d="M429.5,608.5 Q425.5,612.5 425.5,618 L425.5,627.8" fill="none" stroke-width="1.2"/>
<path d="M426.2,617.2 L436.5,612.3 L437.2,614.3 L426.6,619.2 Z" fill="#333" stroke-width="1.1"/>
<path d="M445.1,616.9 L460.6,621.6 L461.3,637.2 L451.9,641.2 Q443,640 441.7,635.1 L442.4,622.3 Q443,618 445.1,616.9 Z"/>
<path d="M456,622.3 Q450,626 449.8,631 L449.8,640.5" fill="none" stroke-width="1.2"/>
<path d="M451.8,626 L451.8,640.8 M453.5,624.8 L453.5,640.5" fill="none" stroke-width="1.2"/>
</g>
<g id="p2" stroke="#111" stroke-width="1.5" fill="#fff" stroke-linejoin="round">
<path d="M404.5,652.5 L407,650.5 L433,639 Q436,637.5 439,639.5 L470,657.5 Q473.5,660 471,663 L451,676.5 Q448,678.5 445,677 L406.5,656.5 Q403.5,654.5 404.5,652.5 Z"/>
<path d="M415,654 L431.3,645.8 L437.5,646 Q440,647 441.5,649.5 L462.5,660 L446.3,670.8 L431,662.5 Q428,660.5 425,661 L415,656.5 Z" stroke-width="1.3"/>
<circle cx="410.2" cy="653.7" r="1.4"/>
<circle cx="435.6" cy="641.9" r="1.4"/>
<circle cx="441.3" cy="645.6" r="1.4"/>
<circle cx="466.9" cy="660" r="1.5"/>
<circle cx="448.1" cy="674.5" r="1.5"/>
<circle cx="424.4" cy="661.9" r="1.4"/>
</g>
<g id="bowl" stroke="#111" stroke-width="1.4" fill="#fff" stroke-linejoin="round">
<path d="M395,667.3 L420.9,680.8" fill="none" stroke-width="1.3"/>
<path d="M469,692 L497,675.6" fill="none" stroke-width="1.3"/>
<path d="M461.4,720 L478.2,726.3" fill="none" stroke-width="1.5"/>
<path d="M409.6,697 L409.8,705.5 Q411,709.5 418.5,710.5 L419.7,716.7 L420.8,725.8 Q427,727.8 434.4,726.9 L443.4,724.6 Q457,721.5 462.5,716.5 Q465.8,711 465.3,700 Z" stroke-width="1.5"/>
<path d="M419.7,716.7 L434.8,719.5 L434.4,726.9 M427,718 L427,727 M434.8,719.5 L443.4,715.5 L443.4,724.6" fill="none" stroke-width="1.1"/>
<path d="M409.8,705.5 L411,699" fill="none" stroke-width="1"/>
<path d="M405.3,689.2 L435,675 Q437.5,674.5 440,676 L469,692.5 Q471,694.5 470,697 L469.8,699.9 L449.5,714 Q447.5,715.6 445,714.5 L406.5,694.5 Q405,693.5 405.3,692 Z" stroke-width="1.7"/>
<path d="M405.7,690 L446,711.1 L470,695" fill="none" stroke-width="1.2"/>
<path d="M416,690.3 L436.6,681 L461.4,695.2 L445,706.6 Z" stroke-width="1.3"/>
<path d="M429,690.5 L445,700" fill="none" stroke-width="2.4"/>
<path d="M429,690.5 L445,700" fill="none" stroke="#fff" stroke-width="0.8"/>
<path d="M430.5,684.5 L431,689 M433.5,684 L433.5,688.5 M437,683.5 L437.5,688.5 M440.5,684 L441,689 M444,689 L446.5,687.5 M446,693 L450,690.5 M448.5,695.5 L452,693.5" fill="none" stroke-width="1"/>
<circle cx="409.6" cy="689.5" r="1.5"/>
<circle cx="437.7" cy="679" r="1.5"/>
<circle cx="465.9" cy="694.5" r="1.5"/>
<circle cx="447.3" cy="709.5" r="1.5"/>
<circle cx="423.7" cy="696.5" r="1.5"/>
</g>
<g id="p12" stroke="#111" stroke-width="1.7" fill="#fff" stroke-linejoin="round">
<path d="M497,669.5 L533,652.5 Q541,649.5 545.5,654.5 Q547.8,658 547.5,663 L547.3,672.5 Q546,674.8 543,674.3 L539.7,672.5 L539.5,665.5 Q539,661 535,660.5 Q532,660 530,661.5 L503.8,677.5 Q499.5,680 497.5,677 Q495.3,673 497,669.5 Z"/>
<path d="M500,670 L532.5,654.8 Q540,652.5 543.5,656" fill="none" stroke-width="1.6" stroke-dasharray="4,1.2,1,1.2"/>
<path d="M505,674 L517,668 M520,666.5 L530,661.5 M532,657.5 Q538,656.5 541.5,661.5 L542.5,667" fill="none" stroke-width="1" stroke-dasharray="5,2"/>
<ellipse cx="500" cy="674" rx="3.3" ry="4.6" transform="rotate(-25 500 674)" stroke-width="2"/>
<ellipse cx="500.3" cy="674" rx="1.4" ry="2.2" transform="rotate(-25 500.3 674)" stroke-width="1" fill="#888"/>
<path d="M538.5,679 Q538.5,676.5 541,676.5 L545,676.5 Q547.5,676.5 547.5,679 L547.5,725 Q547,727.8 544.5,727.8 Q541.5,727.5 540,722.5 L538.5,716 Z"/>
<path d="M541.2,679 L541.5,713 M544.5,680 L544.5,718" fill="none" stroke-width="1.1" stroke-dasharray="4,1.5"/>
<path d="M540,716 Q543.5,718 544.5,725" fill="none" stroke-width="1.1"/>
</g>
<g id="p18" stroke="#111" stroke-width="1.3" fill="#fff">
<path d="M479.5,727 L486.5,725.5 L487.5,731 L480.5,732 Z"/>
<path d="M482,726.5 L482.5,731.5 M484.5,726 L485,731" stroke-width="0.8"/>
<ellipse cx="490.5" cy="730.8" rx="4" ry="5" transform="rotate(-15 490.5 730.8)"/>
<path d="M488.5,727.5 L491.5,734" stroke-width="0.9"/>
</g>
<g id="p21_14_13" stroke="#111" stroke-width="1.3" fill="#fff" stroke-linejoin="round">
<path d="M375.4,683.2 L375.4,655.7 L400,670" fill="none"/>
<path d="M362,676.5 Q364,672.5 369,674.5 L378,679 Q382,682 380.5,685.5 Q378.5,688.5 373.5,686.5 L364,682 Q360,679.5 362,676.5 Z" stroke-width="1.4"/>
<path d="M364,682 L373.5,687.5" fill="none" stroke-width="1.8"/>
<ellipse cx="366.3" cy="677.6" rx="1.8" ry="1.3" fill="#fff" stroke-width="1.3"/>
<ellipse cx="375.6" cy="682.6" rx="1.8" ry="1.3" fill="#222"/>
<ellipse cx="375.3" cy="694.3" rx="5.4" ry="3.9" stroke-width="1.7"/>
<path d="M374,691 L374.5,694.5 M376.5,691 L376.3,694.5" stroke-width="1.1"/>
<path d="M373.5,700.7 L377.5,700.7 L377.5,710 L373.5,710 Z"/>
<path d="M373.5,703 L377.5,703 M373.5,705.5 L377.5,705.5 M373.5,708 L377.5,708" stroke-width="0.8"/>
<path d="M369.8,711.5 Q370,709 375.3,709 Q380.6,709 380.7,711.5 L380.7,714.5 Q380.6,717.4 375.3,717.4 Q370,717.4 369.8,714.5 Z"/>
<path d="M370,712.5 Q375.3,715 380.6,712.5" fill="none" stroke-width="1"/>
</g>
<g id="fwd" stroke="#111" stroke-width="1.3" fill="#fff" stroke-linejoin="round">
<path d="M180.9,720.9 L190.9,703.75 L194,706 L215,694.4 L217.5,695.6 L217.5,709.4 L193.4,722.8 L193.4,728.1 Z" stroke-width="1.5"/>
<path d="M183,720.5 L192,705.5 M194,708 L216,696.5" fill="none" stroke-width="1"/>
<g transform="translate(193.2,721.5) skewY(-28) scale(0.7,1)" fill="#111" stroke="#111" stroke-width="0.9"><text font-size="14" font-weight="bold">FWD</text></g>
</g>


</svg>
</body></html>
